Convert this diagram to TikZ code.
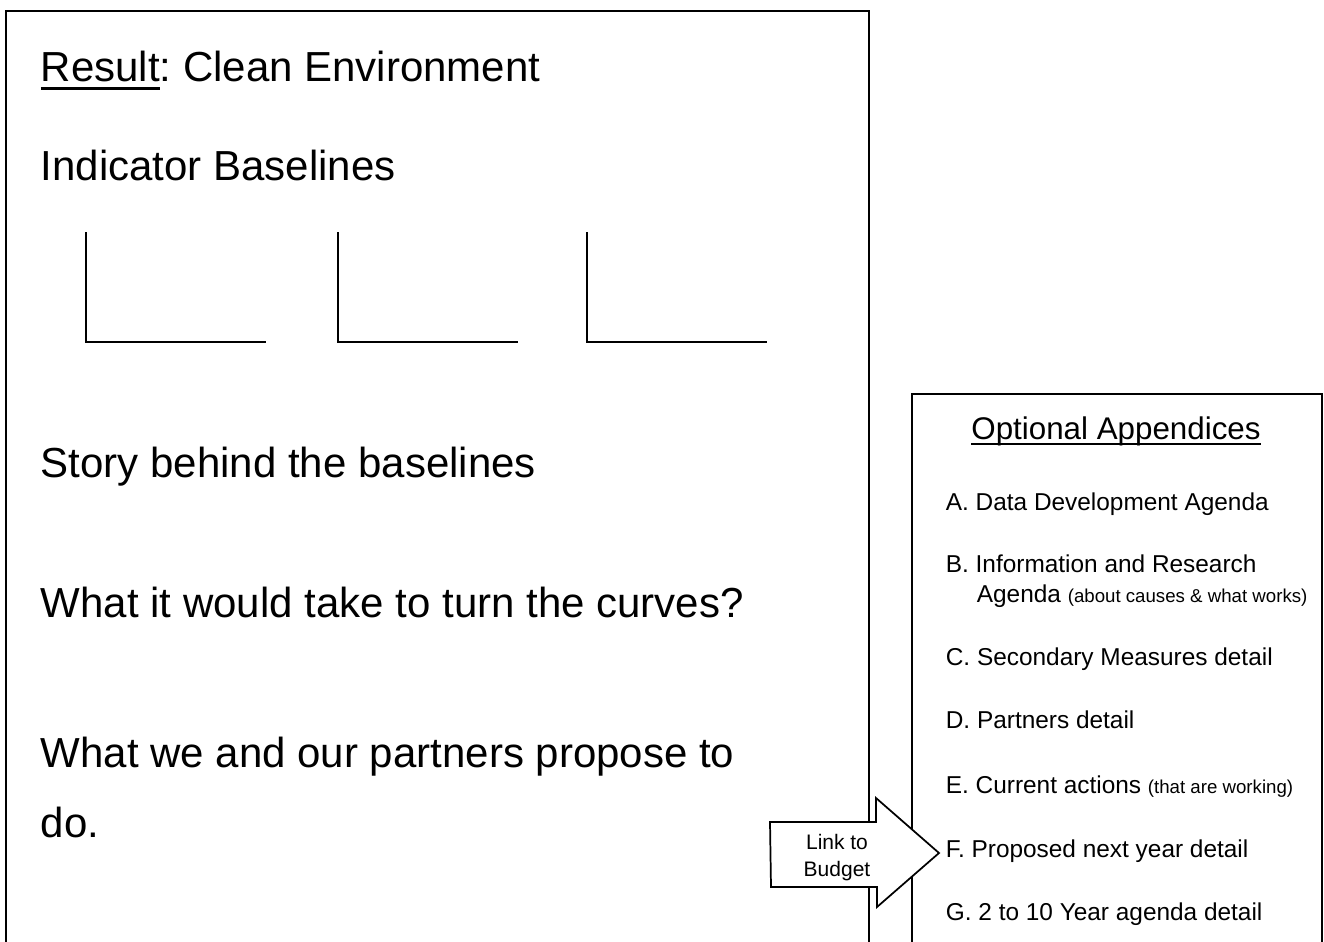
\documentclass[tikz,border=0pt]{standalone}
\usepackage{fontspec}
\setmainfont{Liberation Sans}
\usetikzlibrary{positioning}
\frenchspacing
\newcommand{\thickul}[1]{\begingroup\setbox0\hbox{#1}\rlap{\rule[-0.2em]{\wd0}{0.07em}}\box0\endgroup}

\begin{document}
\begin{tikzpicture}[x=0.75pt, y=-0.75pt, line width=1.3pt,
   big/.style={anchor=base west, inner sep=0pt, font=\fontsize{31.5}{38}\selectfont},
   item/.style={anchor=base west, inner sep=0pt, font=\fontsize{18.3}{22}\selectfont}]
\useasboundingbox (0,0) rectangle (1324,942);

% page for the result
\coordinate(pa) at (6,942);
\coordinate(pb) at (6,11);
\coordinate(pc) at (869,11);
\coordinate(pd) at (869,942);
\draw (pa) -- (pb) -- (pc) -- (pd);

\node [big] (result) at (40,82) {\thickul{Result}: Clean Environment};
\node [big] (ind) at (40,180) {Indicator Baselines};
\node [big] (story) at (40,477) {Story behind the baselines};
\node [big] (take) at (40,617) {What it would take to turn the curves?};
\node [big] (prop) at (40,767) {What we and our partners propose to};
\node [big] (propdo) at (40,837) {do.};

\foreach \x in {86,338,587}
       \draw (\x,232) -- (\x,342) -- ++(180,0);

% appendices
\coordinate(qa) at (912,942);
\coordinate(qb) at (912,394);
\coordinate(qc) at (1322,394);
\coordinate(qd) at (1322,942);
\draw (qa) -- (qb) -- (qc) -- (qd);

\node [anchor=base, inner sep=0pt, font=\fontsize{23.5}{28}\selectfont] (opt) at (1116,439) {\thickul{Optional Appendices}};
\node [item] (appA) at (945,510) {A. Data Development Agenda};
\node [item] (appB) at (945,572) {B. Information and Research};
\node [item] (appBb) at (976,602) {Agenda {\fontsize{14}{17}\selectfont (about causes \& what works)}};
\node [item] (appC) at (945,665) {C. Secondary Measures detail};
\node [item] (appD) at (945,728) {D. Partners detail};
\node [item] (appE) at (945,793) {E. Current actions {\fontsize{14}{17}\selectfont (that are working)}};
\node [item] (appF) at (945,857) {F. Proposed next year detail};
\node [item] (appG) at (945,920) {G. 2 to 10 Year agenda detail};

% block arrow to the budget
\draw [fill=white] (770,822) -- (876,822) -- (876,798) -- (939,853)
      -- (877,907) -- (877,887) -- (771,887) -- cycle;
\node [align=center, inner sep=0pt, font=\fontsize{15.75}{20.3}\selectfont] (link) at (837,858) {Link to\\Budget};
\end{tikzpicture}
\end{document}
